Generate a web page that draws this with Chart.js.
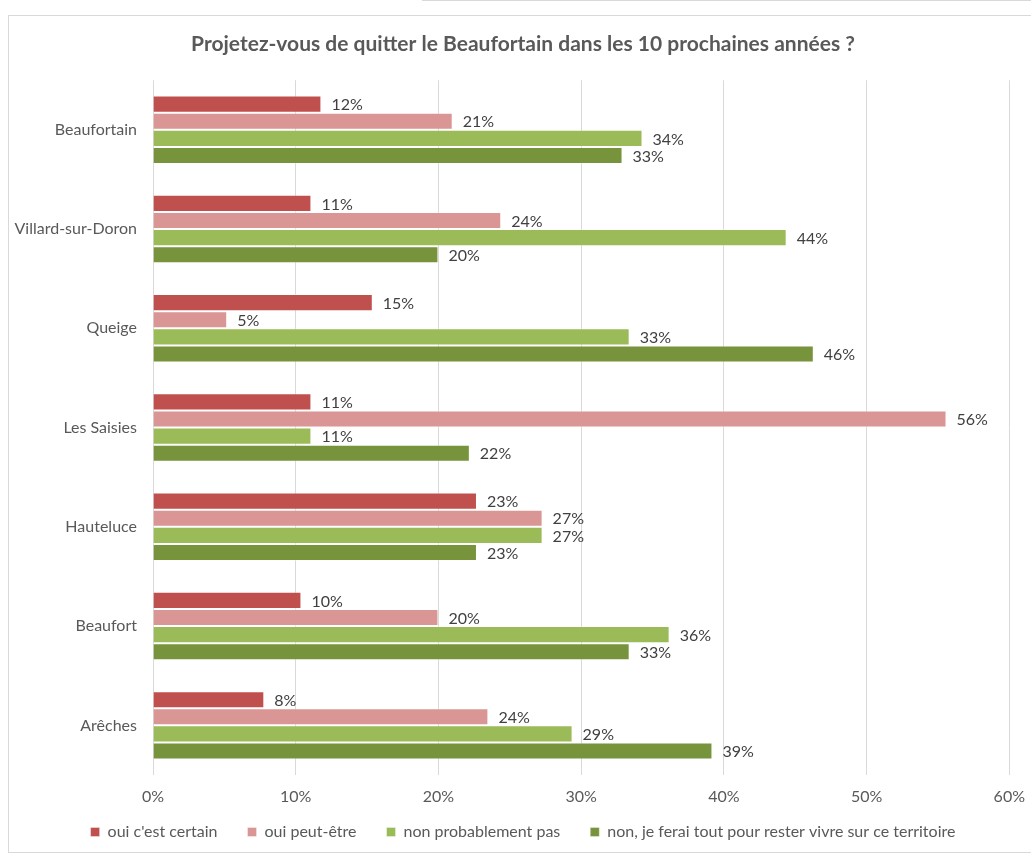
<!DOCTYPE html>
<html>
<head>
<meta charset="utf-8">
<script src="https://cdn.jsdelivr.net/npm/chart.js@4/dist/chart.umd.min.js"></script>
<style>
  body { margin: 0; background: #fff; width: 1031px; height: 855px; overflow: hidden; position: relative; }
  #topline { position: absolute; left: 422px; top: 0; width: 620px; height: 0; border-top: 1px solid #d9d9d9; }
  #frame { position: absolute; left: 8px; top: 15px; width: 1040px; height: 838px; border: 1px solid #d9d9d9; box-sizing: border-box; }
  #wrap { position: absolute; left: 9px; top: 16px; width: 1028px; height: 849px; }
</style>
</head>
<body>
<div id="topline"></div>
<div id="frame"></div>
<div id="wrap"><canvas id="chart"></canvas></div>
<script>
// communes, top to bottom
const communes = ['Beaufortain', 'Villard-sur-Doron', 'Queige', 'Les Saisies', 'Hauteluce', 'Beaufort', 'Arêches'];
const seriesNames = ["oui c'est certain", 'oui peut-être', 'non probablement pas', 'non, je ferai tout pour rester vivre sur ce territoire'];

// values in %
const ouiCertain   = [11.8, 11.1, 15.4, 11.1, 22.7, 10.4, 7.8];
const ouiPeutEtre  = [21.0, 24.4, 5.2, 55.6, 27.3, 20.0, 23.5];
const nonProbable  = [34.3, 44.4, 33.4, 11.1, 27.3, 36.2, 29.4];
const nonJamais    = [32.9, 20.0, 46.3, 22.2, 22.7, 33.4, 39.2];

const xTicks = [0, 10, 20, 30, 40, 50, 60];

const colors = ['#C0504D', '#D99694', '#9BBB59', '#77933C'];
const FONT = 'Lato, "Noto Sans", sans-serif';

// draws the rounded value to the right of each bar
const valueLabels = {
    id: 'valueLabels',
    afterDatasetsDraw(chart) {
        const ctx = chart.ctx;
        ctx.save();
        ctx.font = '16px ' + FONT;
        ctx.fillStyle = '#404040';
        ctx.textBaseline = 'middle';
        ctx.textAlign = 'left';
        chart.data.datasets.forEach((ds, i) => {
            chart.getDatasetMeta(i).data.forEach((bar, j) => {
                ctx.fillText(Math.round(ds.data[j]) + '%', bar.x + 10, bar.y + 1);
            });
        });
        ctx.restore();
    }
};

// legend padding is also the gap between items; pull the legend up so
// the wide item gap does not push it too far below the axis labels
const liftLegend = {
    id: 'liftLegend',
    afterLayout(chart) {
        chart.legend.top -= 15;
        chart.legend.bottom -= 15;
    }
};

const allSeries = [ouiCertain, ouiPeutEtre, nonProbable, nonJamais];

new Chart(document.getElementById('chart'), {
    type: 'bar',
    data: {
        labels: communes,
        datasets: allSeries.map((values, i) => ({
            label: seriesNames[i],
            data: values,
            backgroundColor: colors[i],
            borderColor: 'rgba(255,255,255,0.35)',
            borderWidth: 1,
            categoryPercentage: 0.69,
            barPercentage: 1
        }))
    },
    options: {
        indexAxis: 'y',
        responsive: true,
        maintainAspectRatio: false,
        animation: false,
        layout: { padding: { right: 0, bottom: 0 } },
        scales: {
            x: {
                min: 0,
                max: 60,
                afterBuildTicks(scale) {
                    scale.ticks = xTicks.map(v => ({ value: v }));
                },
                afterFit(scale) { scale.height = 34; },
                grid: { color: '#d9d9d9', drawTicks: false },
                border: { display: false },
                ticks: {
                    padding: 12,
                    color: '#595959',
                    font: { family: FONT, size: 16 },
                    callback: v => v + '%'
                }
            },
            y: {
                afterFit(scale) { scale.width = 144; },
                grid: { display: false },
                border: { display: false },
                ticks: {
                    padding: 8,
                    color: '#595959',
                    font: { family: FONT, size: 16 }
                }
            }
        },
        plugins: {
            title: {
                display: true,
                text: 'Projetez-vous de quitter le Beaufortain dans les 10 prochaines années ?',
                color: '#595959',
                font: { family: FONT, size: 21, weight: 'bold' },
                padding: { top: 16, bottom: 23 }
            },
            legend: {
                position: 'bottom',
                labels: {
                    color: '#595959',
                    font: { family: FONT, size: 16 },
                    boxWidth: 9,
                    boxHeight: 9,
                    padding: 30
                }
            },
            tooltip: { enabled: false }
        }
    },
    plugins: [valueLabels, liftLegend]
});
</script>
</body>
</html>
